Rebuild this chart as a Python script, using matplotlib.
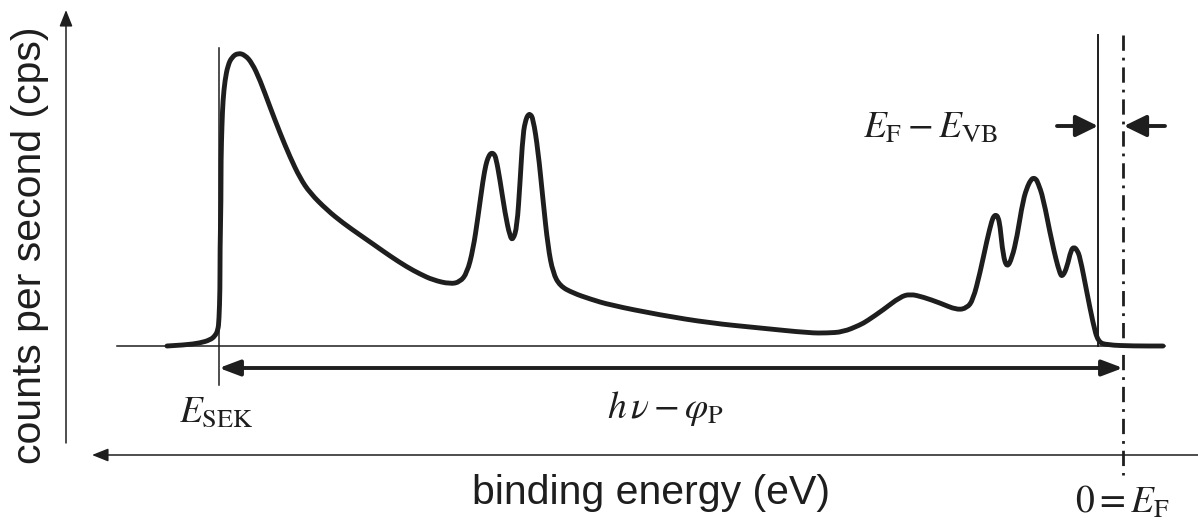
import numpy as np
import matplotlib
matplotlib.use("Agg")
import matplotlib.pyplot as plt
from matplotlib.path import Path
from matplotlib.patches import PathPatch

plt.rcParams['font.family'] = ['Liberation Sans', 'DejaVu Sans']
plt.rcParams['mathtext.fontset'] = 'stix'

# spectrum (x: position along binding energy, y: screen height, baseline = 346)
spec_x = [167, 185, 200, 210, 215, 218, 219, 220, 220, 221, 221, 222, 223, 225, 228, 232, 238,
          245, 252, 260, 270, 280, 290, 300, 310, 327, 343, 360, 373, 390, 407, 420, 433, 450,
          460, 467, 473, 478, 483, 486, 488, 490, 492, 494, 496, 500, 505, 510, 513, 517, 520,
          523, 526, 528, 530, 533, 538, 543, 548, 553, 560, 573, 590, 610, 660, 710, 760, 810,
          827, 843, 860, 867, 883, 900, 910, 923, 940, 957, 967, 973, 980, 987, 992, 994, 996,
          998, 1000, 1003, 1007, 1012, 1017, 1023, 1028, 1031, 1033, 1036, 1038, 1043, 1052,
          1060, 1063, 1067, 1071, 1074, 1077, 1080, 1087, 1093, 1098, 1107, 1133, 1163]
spec_y = [346, 345, 343, 340, 336, 330, 320, 290, 250, 200, 160, 123, 100, 80, 65, 57, 53,
          55, 63, 80, 107, 133, 157, 178, 193, 210, 223, 235, 244, 256, 267, 274, 280, 284,
          282, 273, 250, 217, 180, 164, 158, 154, 153, 154, 158, 180, 213, 237, 240, 227, 183,
          133, 119, 115, 114, 118, 150, 200, 247, 273, 286, 293, 299, 305, 315, 323, 328, 333,
          333, 332, 325, 321, 310, 297, 294, 297, 303, 310, 308, 300, 273, 240, 220, 216, 215,
          217, 225, 255, 268, 258, 237, 200, 185, 180, 178, 179, 183, 197, 243,
          275, 276, 267, 250, 247, 250, 257, 293, 323, 342, 345, 346, 346]

baseline_y = 346
e_sek = 219
e_vb = 1098
e_f = 1123

k = '#1e1e1e'

fig = plt.figure(figsize=(11.98, 5.25), dpi=100)
ax = fig.add_axes([0, 0, 1, 1])
ax.set_xlim(0, 1198)
ax.set_ylim(525, 0)
ax.axis('off')

# axes arrows
ax.annotate('', xy=(66, 10), xytext=(66, 443),
            arrowprops=dict(arrowstyle='-|>,head_length=0.45,head_width=0.18', color=k, lw=1.1,
                            mutation_scale=22, shrinkA=0, shrinkB=0))
ax.annotate('', xy=(92, 455), xytext=(1198, 455),
            arrowprops=dict(arrowstyle='-|>,head_length=0.45,head_width=0.18', color=k, lw=1.1,
                            mutation_scale=22, shrinkA=0, shrinkB=0))

# baseline and markers
ax.plot([117, 1165], [baseline_y - 0.5, baseline_y - 0.5], color=k, lw=1.1)
ax.plot([e_sek, e_sek], [48, 385], color=k, lw=1.1)
ax.plot([e_vb, e_vb], [35, baseline_y], color=k, lw=1.4)
ax.plot([e_f, e_f], [35, 475], color=k, lw=2.0, ls=(0, (5.5, 2.5, 1.0, 2.5)))

# spectrum drawn as a smooth quadratic path through the read points
pts = np.column_stack([spec_x, spec_y]).astype(float)
verts = [pts[0]]
codes = [Path.MOVETO]
for i in range(1, len(pts) - 1):
    mid = (pts[i] + pts[i + 1]) / 2
    verts += [pts[i], mid]
    codes += [Path.CURVE3, Path.CURVE3]
verts.append(pts[-1])
codes.append(Path.LINETO)
ax.add_patch(PathPatch(Path(verts, codes), fill=False, edgecolor=k, lw=3.5,
                       joinstyle='round', capstyle='round'))

# h nu - phi arrow
ax.annotate('', xy=(e_sek, 368), xytext=(e_f, 368),
            arrowprops=dict(arrowstyle='<|-|>,head_length=0.45,head_width=0.17', color=k, lw=2.8,
                            mutation_scale=28, shrinkA=0, shrinkB=0))
# E_F - E_VB arrows
ax.annotate('', xy=(e_vb, 126), xytext=(1057, 126),
            arrowprops=dict(arrowstyle='-|>,head_length=0.45,head_width=0.22', color=k, lw=2.8,
                            mutation_scale=30, shrinkA=0, shrinkB=0))
ax.annotate('', xy=(e_f + 1, 126), xytext=(1165, 126),
            arrowprops=dict(arrowstyle='-|>,head_length=0.45,head_width=0.22', color=k, lw=2.8,
                            mutation_scale=30, shrinkA=0, shrinkB=0))

# labels
ax.text(30, 245, 'counts per second (cps)', rotation=90, ha='center', va='center',
        fontsize=29.5, color=k)
ax.text(651, 493, 'binding energy (eV)', ha='center', va='center', fontsize=29.5, color=k)
ax.text(216, 412, r'$E_{\mathrm{SEK}}$', ha='center', va='center', fontsize=27, color=k)
ax.text(665, 408, r'$h\,\nu-\varphi_{\mathrm{P}}$', ha='center', va='center', fontsize=27, color=k)
ax.text(863, 128, r'$E_{\mathrm{F}}-E_{\mathrm{VB}}$', ha='left', va='center', fontsize=27, color=k)
ax.text(1122, 503, r'$0=E_{\mathrm{F}}$', ha='center', va='center', fontsize=27, color=k)

fig.savefig('out.png', dpi=100)
